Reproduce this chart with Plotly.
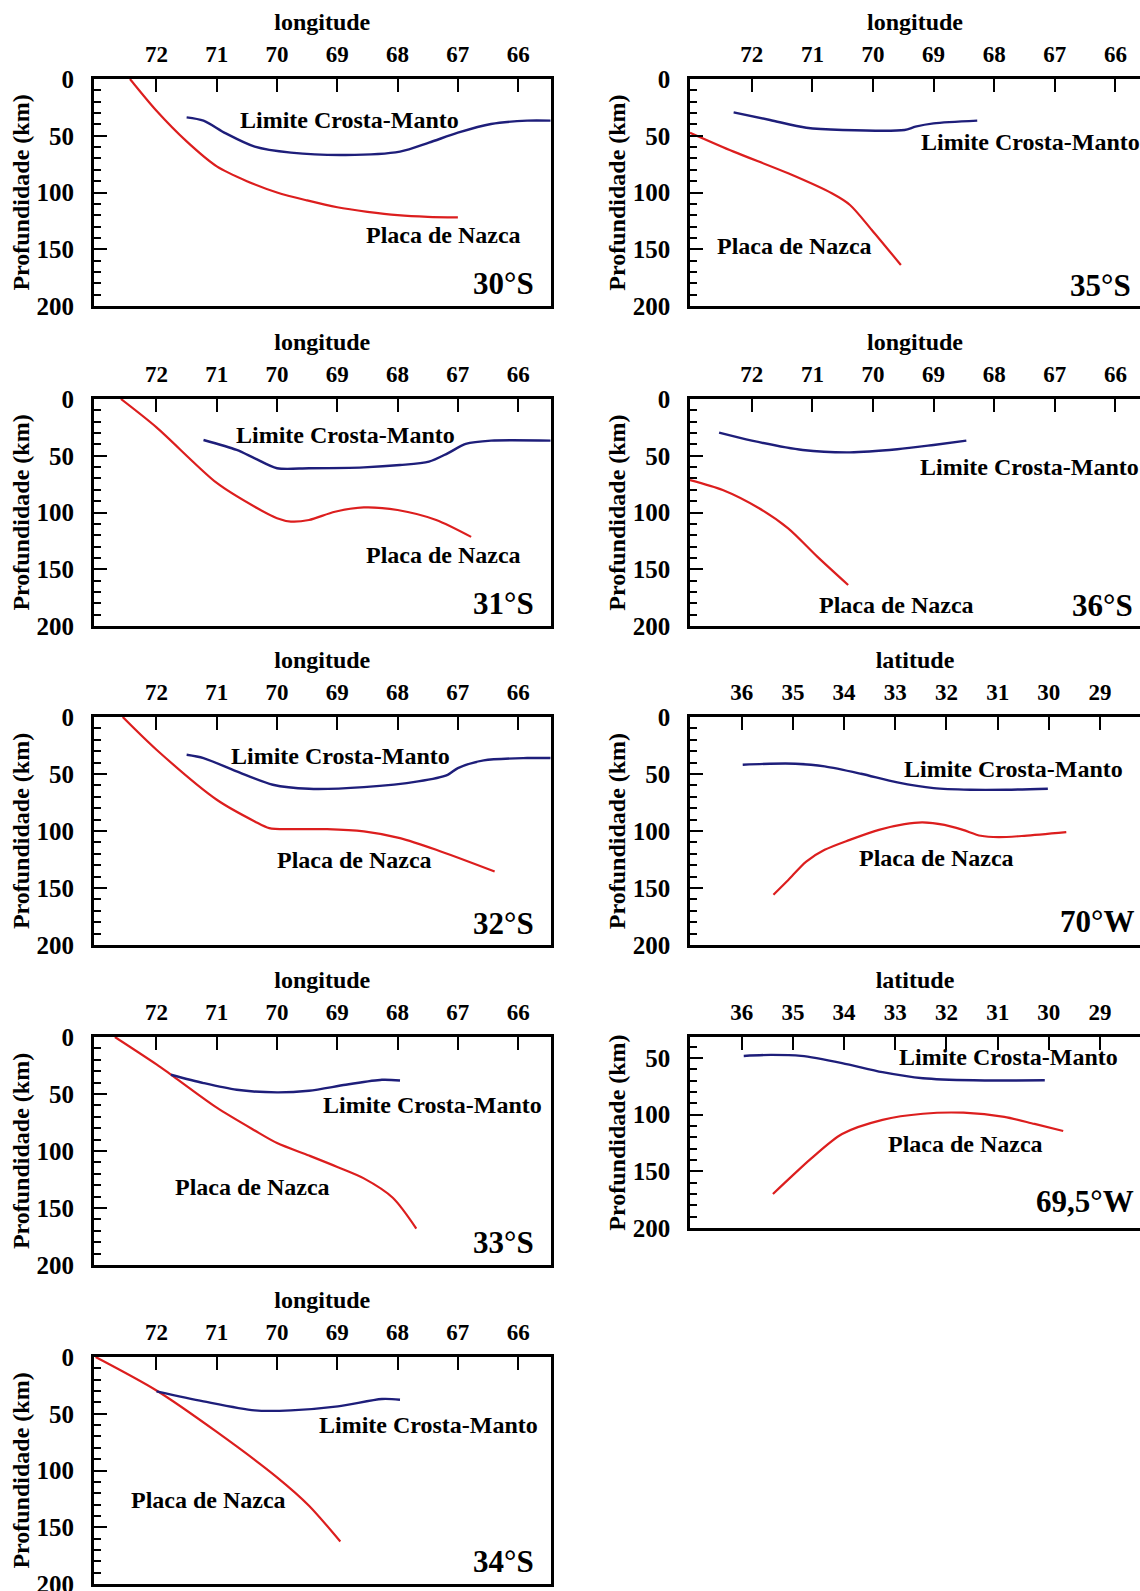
import plotly.graph_objects as go

W, H = 1140, 1591

# ---------------- data ----------------
lon_ticks = [72, 71, 70, 69, 68, 67, 66]
lat_ticks = [36, 35, 34, 33, 32, 31, 30, 29]
depth_ticks = [0, 50, 100, 150, 200]

# 30°S
s30_nazca_lon = [72.44, 72.0, 71.5, 71.0, 70.5, 70.0, 69.5, 69.0, 68.5, 68.0, 67.5, 67.0]
s30_nazca_dep = [0, 28, 55, 77, 90, 100, 107, 113, 117, 120, 121.5, 122]
s30_moho_lon = [71.50, 71.22, 70.85, 70.37, 69.77, 68.86, 67.96, 67.48, 67.0, 66.45, 65.85, 65.46]
s30_moho_dep = [33.8, 36.7, 47.9, 59.6, 64.9, 67.0, 64.0, 56.1, 47.3, 39.6, 36.7, 36.7]

# 31°S
s31_nazca_lon = [72.59, 72.0, 71.0, 70.37, 70.0, 69.77, 69.47, 69.04, 68.56, 68.0, 67.36, 66.78]
s31_nazca_dep = [0, 25, 74, 95, 105, 108, 106.6, 99.3, 95.5, 97.8, 106.6, 121.5]
s31_moho_lon = [71.22, 70.67, 70.37, 70.0, 69.47, 68.56, 67.96, 67.48, 67.17, 66.87, 66.45, 65.46]
s31_moho_dep = [36.1, 44.9, 52.3, 61, 61, 60.2, 58.2, 55.2, 47.9, 39.6, 36.7, 36.7]

# 32°S
s32_nazca_lon = [72.56, 72.0, 71.0, 70.37, 70.13, 69.77, 69.17, 68.56, 67.96, 67.36, 66.39]
s32_nazca_dep = [0, 28.7, 72.6, 91.6, 97.5, 98.4, 98.4, 100.4, 106.3, 116.5, 135.6]
s32_moho_lon = [71.50, 71.22, 70.67, 70.07, 69.47, 68.56, 67.66, 67.17, 67.0, 66.57, 65.85, 65.46]
s32_moho_dep = [33.1, 36.0, 47.7, 59.4, 63.0, 61.5, 56.5, 50.7, 44.8, 38.1, 36.0, 36.0]

# 33°S
s33_nazca_lon = [72.69, 72.0, 71.76, 71.0, 70.37, 70.0, 69.47, 69.0, 68.56, 68.08, 67.69]
s33_nazca_dep = [0, 24, 33, 62, 82, 93, 104, 114, 124, 141, 168]
s33_moho_lon = [71.76, 71.22, 70.67, 70.0, 69.47, 68.86, 68.26, 67.96]
s33_moho_dep = [33.1, 40.4, 46.3, 48.6, 47.1, 41.9, 37.5, 38.1]

# 34°S
s34_nazca_lon = [73.01, 72.0, 71.0, 70.0, 69.47, 68.95]
s34_nazca_dep = [0, 29.5, 66, 106, 131, 162.6]
s34_moho_lon = [72.0, 71.22, 70.37, 69.77, 68.99, 68.26, 67.96]
s34_moho_dep = [30.3, 39.1, 47.0, 47.0, 43.5, 37.0, 37.6]

# 35°S
s35_nazca_lon = [73.02, 72.30, 71.40, 70.68, 70.38, 70.02, 69.54]
s35_nazca_dep = [47.3, 64, 83.1, 100.7, 111, 133, 163.9]
s35_moho_lon = [72.30, 71.70, 71.10, 70.50, 69.48, 69.30, 69.0, 68.28]
s35_moho_dep = [29.4, 36.1, 42.9, 44.9, 44.9, 42.0, 39.1, 36.7]

# 36°S
s36_nazca_lon = [73.02, 72.48, 71.88, 71.40, 70.92, 70.41]
s36_nazca_dep = [71.4, 80.2, 96.3, 114, 138.9, 163.9]
s36_moho_lon = [72.54, 72.0, 71.16, 70.38, 69.60, 69.0, 68.46]
s36_moho_dep = [29.7, 36.7, 44.9, 47.0, 44.3, 40.5, 36.7]

# 70°W
w70_nazca_lat = [35.38, 35.09, 34.74, 34.38, 33.89, 33.32, 32.82, 32.47, 32.04, 31.68, 31.33, 30.98, 30.48, 29.66]
w70_nazca_dep = [156, 142.9, 126.8, 116.5, 107.8, 99, 94, 92.5, 94.6, 99, 104.2, 105.4, 104.2, 101]
w70_moho_lat = [35.98, 35.45, 34.95, 34.38, 33.67, 32.96, 32.25, 31.54, 30.83, 30.02]
w70_moho_dep = [41.9, 41.0, 41.0, 43.3, 49.8, 57.4, 62.4, 63.8, 63.8, 62.9]

# 69,5°W
w695_nazca_lat = [35.39, 35.03, 34.64, 34.04, 33.25, 32.46, 31.67, 30.87, 30.28, 29.72]
w695_nazca_dep = [170, 154.7, 138.6, 117.1, 104.6, 99.2, 98.3, 101.9, 108.2, 114.4]
w695_moho_lat = [35.96, 35.43, 34.84, 34.04, 33.25, 32.46, 31.47, 30.08]
w695_moho_dep = [48.2, 47.3, 48.2, 54.5, 62.5, 67.9, 69.7, 69.7]

# ---------------- layout geometry ----------------
RED = "#dc1e1e"
BLUE = "#1e1e7a"
FONT = "Liberation Serif"

rows_px = [(79, 306), (399, 626), (717, 945), (1037, 1265), (1357, 1584), (1037, 1228)]
left_dom = [93.8 / W, 550.7 / W]
right_dom = [690 / W, 1.0]
lon_range_left = [73.04, 65.46]
lon_range_right = [73.02, 65.594]
lat_range = [37.01, 28.22]

panels = [
    dict(col="L", row=0, kind="lon", label="30°S", ytop=0,
         nazca=(s30_nazca_lon, s30_nazca_dep), moho=(s30_moho_lon, s30_moho_dep),
         moho_txt=(68.80, 36.1, "center"), nazca_txt=(67.24, 137.5, "center"), tag=(66.24, 180)),
    dict(col="L", row=1, kind="lon", label="31°S", ytop=0,
         nazca=(s31_nazca_lon, s31_nazca_dep), moho=(s31_moho_lon, s31_moho_dep),
         moho_txt=(68.86, 31.7, "center"), nazca_txt=(67.24, 137.5, "center"), tag=(66.24, 180)),
    dict(col="L", row=2, kind="lon", label="32°S", ytop=0,
         nazca=(s32_nazca_lon, s32_nazca_dep), moho=(s32_moho_lon, s32_moho_dep),
         moho_txt=(68.95, 34.5, "center"), nazca_txt=(68.71, 125.3, "center"), tag=(66.24, 181)),
    dict(col="L", row=3, kind="lon", label="33°S", ytop=0,
         nazca=(s33_nazca_lon, s33_nazca_dep), moho=(s33_moho_lon, s33_moho_dep),
         moho_txt=(67.42, 60, "center"), nazca_txt=(70.40, 131.2, "center"), tag=(66.24, 180)),
    dict(col="L", row=4, kind="lon", label="34°S", ytop=0,
         nazca=(s34_nazca_lon, s34_nazca_dep), moho=(s34_moho_lon, s34_moho_dep),
         moho_txt=(67.48, 60.3, "center"), nazca_txt=(71.13, 125.9, "center"), tag=(66.24, 180)),
    dict(col="R", row=0, kind="lon", label="35°S", ytop=0,
         nazca=(s35_nazca_lon, s35_nazca_dep), moho=(s35_moho_lon, s35_moho_dep),
         moho_txt=(69.24, 55.2, "left"), nazca_txt=(71.30, 147.1, "center"), tag=(66.25, 181.5)),
    dict(col="R", row=1, kind="lon", label="36°S", ytop=0,
         nazca=(s36_nazca_lon, s36_nazca_dep), moho=(s36_moho_lon, s36_moho_dep),
         moho_txt=(69.25, 59.6, "left"), nazca_txt=(69.61, 181.5, "center"), tag=(66.21, 181.5)),
    dict(col="R", row=2, kind="lat", label="70°W", ytop=0,
         nazca=(w70_nazca_lat, w70_nazca_dep), moho=(w70_moho_lat, w70_moho_dep),
         moho_txt=(30.69, 45.7, "center"), nazca_txt=(32.20, 123.9, "center"), tag=(29.06, 179.5)),
    dict(col="R", row=5, kind="lat", label="69,5°W", ytop=31.5,
         nazca=(w695_nazca_lat, w695_nazca_dep), moho=(w695_moho_lat, w695_moho_dep),
         moho_txt=(30.78, 49.1, "center"), nazca_txt=(31.63, 126, "center"), tag=(29.29, 177)),
]

fig = go.Figure()
layout = dict(
    width=W, height=H, margin=dict(l=0, r=0, t=0, b=0, autoexpand=False),
    paper_bgcolor="white", plot_bgcolor="white", showlegend=False,
    font=dict(family=FONT, color="black"),
)
annotations = []

xtickfont = dict(family=FONT, size=23, color="black", weight="bold")
ytickfont = dict(family=FONT, size=25, color="black", weight="bold")
titlefont = dict(family=FONT, size=24, color="black", weight="bold")

for i, p in enumerate(panels, start=1):
    xa = "xaxis" if i == 1 else f"xaxis{i}"
    ya = "yaxis" if i == 1 else f"yaxis{i}"
    xr = "x" if i == 1 else f"x{i}"
    yr = "y" if i == 1 else f"y{i}"
    top, bot = rows_px[p["row"]]
    ydom = [1 - bot / H, 1 - top / H]
    if p["kind"] == "lon":
        xrange = lon_range_left if p["col"] == "L" else lon_range_right
        xticks = lon_ticks
        xtitle = "longitude"
    else:
        xrange = lat_range
        xticks = lat_ticks
        xtitle = "latitude"
    layout[xa] = dict(
        domain=left_dom if p["col"] == "L" else right_dom,
        range=xrange, anchor=yr, side="top", automargin=False,
        tickvals=xticks, ticktext=[str(t) for t in xticks],
        ticks="inside", ticklen=13, tickwidth=2, tickcolor="black",
        ticklabelstandoff=5,
        showline=True, linewidth=2.5, linecolor="black", mirror=True,
        showgrid=False, zeroline=False, tickfont=xtickfont,
        title=dict(text=xtitle, font=titlefont, standoff=5),
    )
    layout[ya] = dict(
        domain=ydom, range=[200, p["ytop"]], anchor=xr, automargin=False,
        tickvals=depth_ticks, ticktext=[str(t) for t in depth_ticks],
        ticks="inside", ticklen=13, tickwidth=2, tickcolor="black",
        ticklabelstandoff=12, ticklabeloverflow="allow",
        minor=dict(dtick=10, ticks="inside", ticklen=7, tickwidth=2, tickcolor="black"),
        showline=True, linewidth=2.5, linecolor="black",
        mirror=(p["col"] == "L"),
        showgrid=False, zeroline=False, tickfont=ytickfont,
        title=dict(text="Profundidade (km)", font=titlefont, standoff=1),
    )
    nx, ny = p["nazca"]
    mx, my = p["moho"]
    fig.add_trace(go.Scatter(x=nx, y=ny, mode="lines", xaxis=xr, yaxis=yr,
                             line=dict(color=RED, width=2.2, shape="spline", smoothing=0.8)))
    fig.add_trace(go.Scatter(x=mx, y=my, mode="lines", xaxis=xr, yaxis=yr,
                             line=dict(color=BLUE, width=2.4, shape="spline", smoothing=0.8)))
    tx, ty, anc = p["moho_txt"]
    annotations.append(dict(x=tx, y=ty, xref=xr, yref=yr, text="Limite Crosta-Manto",
                            showarrow=False, xanchor=anc, yanchor="middle",
                            font=dict(family=FONT, size=24, color="black", weight="bold")))
    tx, ty, anc = p["nazca_txt"]
    annotations.append(dict(x=tx, y=ty, xref=xr, yref=yr, text="Placa de Nazca",
                            showarrow=False, xanchor=anc, yanchor="middle",
                            font=dict(family=FONT, size=24, color="black", weight="bold")))
    tx, ty = p["tag"]
    annotations.append(dict(x=tx, y=ty, xref=xr, yref=yr, text=p["label"],
                            showarrow=False, xanchor="center", yanchor="middle",
                            font=dict(family=FONT, size=31, color="black", weight="bold")))

layout["annotations"] = annotations
fig.update_layout(**layout)
fig.write_html("out.html")
